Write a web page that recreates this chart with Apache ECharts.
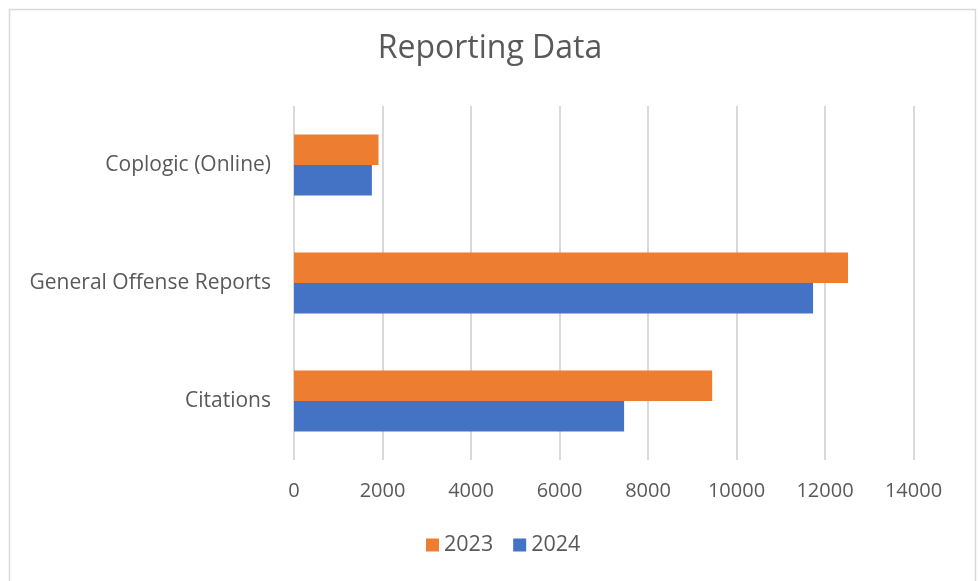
<!DOCTYPE html>
<html>
<head>
<meta charset="utf-8">
<script src="https://cdn.jsdelivr.net/npm/echarts@6/dist/echarts.min.js"></script>
<style>html,body{margin:0;padding:0;background:#fff;}#c{width:980px;height:581px;}</style>
</head>
<body>
<div id="c"></div>
<script>
const categories = ['Citations', 'General Offense Reports', 'Coplogic (Online)'];
const values2023 = [9450, 12520, 1910];
const values2024 = [7460, 11730, 1760];
const xTicks = [0, 2000, 4000, 6000, 8000, 10000, 12000, 14000];

const chart = echarts.init(document.getElementById('c'), null, {renderer: 'canvas'});
const font = 'Open Sans';
chart.setOption({
  backgroundColor: '#fff',
  animation: false,
  graphic: [{
    type: 'rect', left: 7, top: 7,
    shape: {width: 966, height: 580},
    style: {fill: 'none', stroke: '#d9d9d9', lineWidth: 1.5},
    silent: true
  }],
  title: {
    text: 'Reporting Data', left: 'center', top: 28,
    textStyle: {fontFamily: font, fontSize: 32, fontWeight: 'normal', color: '#595959'}
  },
  legend: {
    data: ['2023', '2024'], bottom: 20, left: 421,
    itemWidth: 13, itemHeight: 13, itemGap: 20, icon: 'rect',
    textStyle: {fontFamily: font, fontSize: 21.5, color: '#595959'}
  },
  grid: {left: 294, right: 66.5, top: 106, bottom: 121, containLabel: false},
  xAxis: {
    type: 'value', min: xTicks[0], max: xTicks[xTicks.length - 1], interval: 2000,
    axisLine: {show: false}, axisTick: {show: false},
    splitLine: {lineStyle: {color: '#d9d9d9', width: 2}},
    axisLabel: {fontFamily: font, fontSize: 20, color: '#595959', margin: 21,
      formatter: v => String(v)}
  },
  yAxis: {
    type: 'category', data: categories,
    axisLine: {show: false}, axisTick: {show: false},
    axisLabel: {fontFamily: font, fontSize: 21, color: '#595959', margin: 23}
  },
  series: [
    {name: '2023', type: 'bar', data: values2023, barWidth: 30.5, barGap: '0%',
     itemStyle: {color: '#ED7D31'}},
    {name: '2024', type: 'bar', data: values2024, barWidth: 30.5, barGap: '0%',
     itemStyle: {color: '#4472C4'}}
  ]
});
</script>
</body>
</html>
